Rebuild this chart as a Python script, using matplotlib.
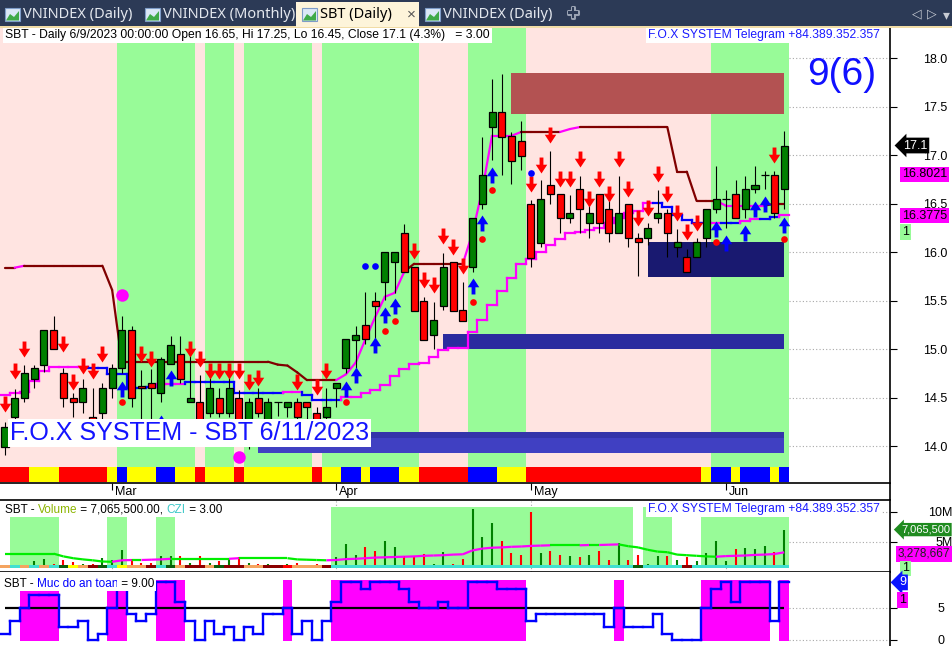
"""AmiBroker-style SBT daily chart with volume and safety panes."""

import numpy as np
import matplotlib

matplotlib.use("Agg")
import matplotlib.pyplot as plt
import matplotlib.transforms as mtransforms
import matplotlib.patheffects as pe
from matplotlib.collections import LineCollection
from matplotlib.patches import Polygon, Rectangle
from matplotlib.path import Path

plt.rcParams["font.family"] = ["Liberation Sans", "DejaVu Sans"]

# ---- price bars (bar 0 = 14 Feb 2023 ... bar 80 = 9 Jun 2023) ----
opens = [13.99, 14.30, 14.50, 14.69, 14.84, 15.20, 14.75, 14.50, 14.45, 14.30,
         14.34, 14.60, 14.80, 15.20, 14.62, 14.65, 14.55, 14.85, 14.95, 14.45,
         14.45, 14.34, 14.50, 14.34, 14.50, 14.25, 14.50, 14.27, 14.45, 14.40,
         14.45, 14.45, 14.34, 14.30, 14.60, 14.80, 15.09, 15.25, 15.50, 15.69,
         15.90, 16.20, 15.85, 15.50, 15.15, 15.44, 15.90, 15.40, 15.85, 16.50,
         17.29, 17.45, 17.20, 17.15, 16.50, 16.09, 16.69, 16.60, 16.35, 16.65,
         16.30, 16.60, 16.45, 16.20, 16.50, 16.15, 16.15, 16.35, 16.40, 16.05,
         15.95, 15.95, 16.15, 16.45, 16.55, 16.60, 16.45, 16.65, 16.80, 16.80,
         16.65]
highs = [14.25, 14.59, 14.84, 14.84, 15.20, 15.34, 14.80, 14.55, 14.69, 14.60,
         14.65, 14.85, 15.34, 15.24, 14.78, 14.79, 14.92, 15.14, 15.14, 14.95,
         14.73, 14.73, 14.60, 14.80, 14.58, 14.50, 14.60, 14.50, 14.45, 14.45,
         14.50, 14.45, 14.40, 14.60, 14.65, 15.10, 15.24, 15.59, 15.59, 16.00,
         16.00, 16.29, 15.85, 15.54, 15.49, 15.99, 15.90, 15.69, 16.35, 17.19,
         17.79, 17.84, 17.24, 17.35, 16.54, 16.74, 17.04, 16.60, 16.59, 16.79,
         16.62, 16.60, 16.62, 16.79, 16.50, 16.20, 16.30, 16.64, 16.44, 16.24,
         16.03, 16.15, 16.45, 16.89, 16.64, 16.74, 16.79, 16.89, 16.84, 16.84,
         17.25]
lows = [13.91, 14.20, 14.45, 14.60, 14.76, 15.00, 14.40, 14.30, 14.34, 14.20,
        14.28, 14.50, 14.75, 14.40, 14.25, 14.27, 14.45, 14.85, 14.65, 14.45,
        14.10, 14.30, 14.30, 14.30, 14.15, 13.97, 14.30, 14.25, 14.31, 14.30,
        14.28, 14.28, 14.20, 14.28, 14.40, 14.75, 14.80, 15.05, 15.10, 15.51,
        15.58, 15.80, 15.39, 15.09, 15.00, 15.40, 15.39, 15.29, 15.80, 16.45,
        16.95, 16.80, 16.70, 16.85, 15.85, 16.05, 16.50, 16.20, 16.30, 16.20,
        16.15, 16.20, 16.10, 16.20, 16.05, 15.75, 16.07, 16.30, 15.95, 15.95,
        15.80, 15.95, 16.05, 16.40, 16.25, 16.35, 16.35, 16.61, 16.65, 16.35,
        16.45]
closes = [14.20, 14.50, 14.75, 14.80, 15.20, 15.00, 14.50, 14.45, 14.60, 14.26,
          14.60, 14.80, 15.20, 14.50, 14.60, 14.60, 14.90, 15.04, 14.69, 14.50,
          14.20, 14.60, 14.34, 14.60, 14.20, 14.45, 14.34, 14.45, 14.45, 14.45,
          14.30, 14.40, 14.25, 14.40, 14.65, 15.10, 15.15, 15.10, 15.44, 16.00,
          16.00, 15.80, 15.39, 15.09, 15.30, 15.85, 15.39, 15.29, 16.35, 16.80,
          17.45, 17.19, 16.94, 16.99, 15.94, 16.55, 16.60, 16.35, 16.40, 16.44,
          16.40, 16.30, 16.20, 16.40, 16.15, 16.10, 16.25, 16.40, 16.20, 16.10,
          15.80, 16.10, 16.45, 16.55, 16.55, 16.35, 16.65, 16.69, 16.80, 16.40,
          17.10]
month_bars = [11, 34, 54, 74]
month_labels = ["Mar", "Apr", "May", "Jun"]

# trailing stop (upper) and support (lower staircase) lines
stop_line = [15.84, 15.84, 15.86, 15.86, 15.86, 15.86, 15.86, 15.86, 15.86, 15.86,
             15.86, 15.61, 14.87, 14.87, 14.87, 14.87, 14.87, 14.87, 14.87, 14.87,
             14.87, 14.87, 14.87, 14.87, 14.87, 14.87, 14.87, 14.87, 14.84, 14.83,
             14.76, 14.68, 14.68, 14.68, 14.68, 14.74, 14.86, 15.10, 15.33, 15.54,
             15.58, 15.80, 15.88, 15.88, 15.88, 15.88, 15.88, 15.88, 16.20, 16.64,
             17.20, 17.20, 17.20, 17.24, 17.24, 17.24, 17.24, 17.24, 17.27, 17.29,
             17.29, 17.29, 17.29, 17.29, 17.29, 17.29, 17.29, 17.29, 17.29, 16.83,
             16.83, 16.53, 16.53, 16.53, 16.48, 16.48, 16.48, 16.48, 16.48, 16.50,
             16.50]
stop_color_runs = [(0, 1, "M"), (2, 2, "P"), (3, 34, "M"), (35, 41, "P"), (42, 47, "M"),
                   (48, 53, "P"), (54, 57, "M"), (58, 59, "P"), (60, 73, "M"),
                   (74, 78, "P"), (79, 80, "M")]
support_line = [14.53, 14.55, 14.56, 14.67, 14.77, 14.82, 14.82, 14.82, 14.82, 14.80,
                14.80, 14.74, 14.74, 14.60, 14.60, 14.61, 14.64, 14.64, 14.64, 14.66,
                14.66, 14.66, 14.66, 14.66, 14.55, 14.55, 14.55, 14.55, 14.55, 14.56,
                14.56, 14.53, 14.48, 14.48, 14.48, 14.51, 14.51, 14.55, 14.58, 14.63,
                14.72, 14.79, 14.85, 14.86, 14.92, 14.99, 15.01, 15.01, 15.18, 15.30,
                15.46, 15.60, 15.73, 15.88, 15.93, 16.00, 16.07, 16.14, 16.20, 16.21,
                16.23, 16.25, 16.30, 16.35, 16.40, 16.42, 16.51, 16.51, 16.47, 16.38,
                16.33, 16.30, 16.30, 16.30, 16.30, 16.30, 16.32, 16.34, 16.34, 16.36,
                16.38]
support_color_runs = [(0, 8, "P"), (9, 15, "B"), (16, 18, "P"), (19, 28, "B"), (29, 30, "P"),
                      (31, 34, "B"), (35, 66, "P"), (67, 72, "B"), (73, 73, "P"),
                      (74, 75, "B"), (76, 77, "P"), (78, 79, "B"), (80, 80, "P")]

# signals: (bar, price)
sell_arrows = [(0, 14.35), (1, 14.69), (2, 14.92), (6, 14.97), (7, 14.58), (8, 14.74),
               (9, 14.69), (10, 14.87), (14, 14.87), (15, 14.82), (19, 14.92), (20, 14.82),
               (21, 14.69), (22, 14.69), (23, 14.69), (24, 14.69), (25, 14.58), (26, 14.62),
               (30, 14.58), (32, 14.53), (33, 14.69), (42, 15.93), (43, 15.63), (44, 15.58),
               (45, 16.08), (46, 15.97), (47, 15.77), (54, 16.62), (55, 16.82), (56, 17.13),
               (57, 16.67), (58, 16.67), (59, 16.88), (60, 16.47), (61, 16.67), (62, 16.52),
               (63, 16.88), (64, 16.57), (65, 16.27), (66, 16.37), (67, 16.72), (68, 16.52),
               (69, 16.32), (70, 16.13), (71, 16.22), (79, 16.92)]
buy_arrows = [(12, 14.67), (16, 14.32), (17, 14.78), (35, 14.67), (36, 14.82), (38, 15.13),
              (39, 15.43), (40, 15.53), (48, 15.73), (49, 16.38), (50, 16.88), (73, 16.32),
              (74, 16.18), (76, 16.28), (77, 16.53), (78, 16.58), (80, 16.36)]
red_dots = [(12, 14.45), (35, 14.45), (39, 15.19), (40, 15.29), (48, 15.49), (49, 16.14),
            (50, 16.64), (73, 16.10), (80, 16.14)]
blue_dots = [(37, 15.86), (38, 15.86), (54, 16.82)]
magenta_dots = [(12, 15.56), (24, 13.89)]

# zones: (first bar, last bar, low, high, colour)
zones = [(52, 80, 17.43, 17.85, "#b35252"),
         (66, 80, 15.74, 16.10, "#191970"),
         (45, 80, 15.00, 15.155, "#2b2b9f"),
         (26, 80, 13.93, 14.14, "#4040c2"),
         (26, 80, 14.08, 14.14, "#3434aa")]

green_runs = [(12, 19), (21, 23), (25, 31), (33, 42), (48, 53), (73, 80)]
ribbon_runs = [(0, 2, "R"), (3, 5, "Y"), (6, 10, "R"), (11, 11, "Y"), (12, 12, "B"),
               (13, 15, "Y"), (16, 17, "B"), (18, 19, "Y"), (20, 20, "R"), (21, 23, "Y"),
               (24, 24, "R"), (25, 31, "Y"), (32, 32, "R"), (33, 34, "Y"), (35, 36, "B"),
               (37, 37, "Y"), (38, 40, "B"), (41, 42, "Y"), (43, 47, "R"), (48, 50, "B"),
               (51, 53, "Y"), (54, 71, "R"), (72, 72, "Y"), (73, 74, "B"), (75, 75, "Y"),
               (76, 78, "B"), (79, 79, "Y"), (80, 80, "B")]

# ---- volume pane (millions of shares) ----
volume = [1.2, 1.2, 1.2, 1.8, 2.2, 1.4, 2.0, 1.6, 1.4, 1.4,
          2.3, 2.0, 3.7, 2.2, 1.5, 1.5, 2.7, 2.7, 2.7, 1.5,
          2.7, 1.5, 1.8, 2.2, 2.5, 1.5, 1.3, 1.4, 1.2, 1.3,
          1.5, 1.2, 1.3, 1.2, 2.5, 4.6, 2.9, 4.1, 3.5, 5.2,
          4.1, 2.7, 2.7, 3.0, 1.4, 3.4, 1.4, 2.2, 10.5, 5.8,
          8.2, 5.2, 3.1, 2.9, 10.0, 3.2, 3.5, 2.9, 2.6, 2.5,
          2.8, 3.5, 2.0, 4.8, 2.0, 2.9, 1.4, 2.7, 2.6, 2.0,
          2.5, 1.8, 3.1, 5.2, 1.8, 3.8, 4.0, 3.9, 4.3, 3.4,
          7.0655]
volume_ma = [3.05, 3.05, 3.05, 3.05, 3.05, 3.05, 2.6, 2.3, 2.1, 1.95,
             1.75, 1.7, 1.95, 2.0, 2.0, 2.05, 2.1, 2.2, 2.2, 2.2,
             2.2, 2.2, 2.2, 2.2, 2.3, 2.3, 2.3, 2.3, 2.3, 2.3,
             2.1, 2.05, 2.0, 1.95, 2.0, 2.15, 2.2, 2.3, 2.4, 2.45,
             2.5, 2.55, 2.6, 2.7, 2.75, 2.8, 2.9, 2.95, 3.6, 3.9,
             4.05, 4.1, 4.2, 4.25, 4.35, 4.4, 4.45, 4.45, 4.45, 4.45,
             4.5, 4.5, 4.55, 4.6, 4.3, 4.1, 3.7, 3.4, 3.3, 2.9,
             2.8, 2.7, 2.6, 2.55, 2.65, 2.7, 2.75, 2.85, 2.9, 3.0,
             3.278667]
volume_strip = ("OCOCOCGYOKGCYOOKCGOKKOGKKOOKKROOOK"
                "CCCCCCCCCCCCCCCCCCCCCCCCCCCCCCC" "G" "CCCC" "K" "CCCCCCCCCC")
vol_tall_runs = [(34, 64), (66, 68)]
vol_short_runs = [(1, 5), (11, 12), (16, 17), (72, 80)]

# ---- safety level pane ("Muc do an toan") ----
safety = [1, 3, 5, 7, 7, 7, 2, 2, 3, 0, 1, 5, 8, 4, 3, 4, 9, 9, 6, 3,
          0, 3, 1, 2, 0, 2, 1, 4, 4, 5, 1, 3, 0, 3, 6, 9, 9, 8, 9, 9,
          9, 8, 6, 5, 5, 6, 5, 5, 9, 9, 9, 8, 8, 8, 3, 4, 4, 4, 4, 4,
          4, 4, 2, 5, 2, 2, 2, 4, 1, 0, 0, 0, 5, 8, 9, 6, 9, 9, 9, 3,
          9]

W, H = 953, 646
RIGHT = 890
PINK, GREEN = "#ffe4e1", "#98fb98"
MAROON, MAGENTA, BLUE = "#800000", "#ff00ff", "#0000ff"
LINE_COLORS = {"M": MAROON, "P": MAGENTA, "B": BLUE}
RIBBON_COLORS = {"R": "#ff0000", "Y": "#ffff00", "B": "#0000ff"}
STRIP_COLORS = {"O": "#f4a460", "C": "#40e0d0", "G": "#0b5d0b", "Y": "#ffff00",
                "K": "#8b0000", "R": "#ff0000"}


def expand(runs, n, fill):
    out = [fill] * n
    for first, last, value in runs:
        for i in range(first, last + 1):
            out[i] = value
    return out


def arrow_marker(up):
    verts = [(0, 0), (0.36, 0.55), (0.12, 0.55), (0.12, 1.0), (-0.12, 1.0),
             (-0.12, 0.55), (-0.36, 0.55), (0, 0)]
    if up:
        verts = [(x, -y) for x, y in verts]
    codes = [Path.MOVETO] + [Path.LINETO] * 6 + [Path.CLOSEPOLY]
    return Path(verts, codes)


def staircase(axis, values, colors, lw=1.6, zorder=2.5):
    segs, cols = [], []
    for i, v in enumerate(values):
        segs.append([(i - 0.5, v), (i + 0.5, v)])
        cols.append(colors[i])
        if i + 1 < len(values):
            segs.append([(i + 0.5, v), (i + 0.5, values[i + 1])])
            cols.append(colors[i + 1])
    axis.add_collection(LineCollection(segs, colors=cols, linewidths=lw, zorder=zorder,
                                       capstyle="projecting"))


def colored_text(axis, x, y, parts, size):
    text = axis.text(x, y, parts[0][0], color=parts[0][1], transform=axis.transAxes,
                     fontsize=size, va="bottom", zorder=9,
                     bbox=dict(fc="white", ec="none", pad=1.0))
    for string, color in parts[1:]:
        text = axis.annotate(string, xy=(1, 0), xycoords=text, color=color, fontsize=size,
                             va="bottom", zorder=9,
                             bbox=dict(fc="white", ec="none", pad=1.0))


def tag(axis, y, label, fc, tc, arrow=False, x_px=903, size=9):
    style = "larrow,pad=0.15" if arrow else "square,pad=0.15"
    axis.text(x_px / RIGHT, y, label, transform=axis.get_yaxis_transform(), color=tc,
              fontsize=size, ha="left", va="center", zorder=12, clip_on=False,
              bbox=dict(boxstyle=style, fc=fc, ec=fc, lw=0))


def pane(top, bottom):
    axis = fig.add_axes([0, 1 - bottom / H, RIGHT / W, (bottom - top) / H])
    axis.set_xlim(-0.513, 90.86)
    for side in ("top", "left"):
        axis.spines[side].set_visible(False)
    axis.spines["right"].set_linewidth(1.2)
    axis.spines["bottom"].set_linewidth(1.2)
    axis.yaxis.tick_right()
    axis.tick_params(axis="y", direction="out", length=5, width=0.8, labelsize=9)
    axis.tick_params(axis="x", bottom=False, labelbottom=False)
    return axis


n = len(closes)
x = np.arange(n)
o, h, l, c = (np.asarray(a) for a in (opens, highs, lows, closes))

fig = plt.figure(figsize=(W / 100, H / 100), dpi=100)

# ---------------- main price pane ----------------
ax = pane(28, 483)
ax.set_ylim(13.619, 18.312)
price_ticks = np.arange(14.0, 18.01, 0.5)
ax.set_yticks(price_ticks)
ax.set_yticklabels([f"{t:.1f}" for t in price_ticks])
ax.tick_params(axis="y", pad=36)
for lab in ax.get_yticklabels():
    lab.set_horizontalalignment("right")
ax.hlines(price_ticks, n - 0.5, 90.86, colors="#a8a8a8", linestyles=(0, (1, 2)), lw=0.8, zorder=0)

ax.axvspan(-0.5, n - 0.5, ymin=0.035, ymax=1, fc=PINK, ec="none", zorder=0.5)
for first, last in green_runs:
    ax.axvspan(first - 0.5, last + 0.5, ymin=0.035, ymax=1, fc=GREEN, ec="none", zorder=0.6)
for i, code in enumerate(expand(ribbon_runs, n, "Y")):
    ax.axvspan(i - 0.5, i + 0.5, ymin=0.002, ymax=0.035, fc=RIBBON_COLORS[code], ec="none", zorder=0.7)

for first, last, low, high, color in zones:
    ax.add_patch(Rectangle((first, low), last - first, high - low, fc=color, ec="none", zorder=1.5))

# upper stop line
stop_cols = expand(stop_color_runs, n, "M")
segs = [[(i - 1, stop_line[i - 1]), (i, stop_line[i])] for i in range(1, n)]
ax.add_collection(LineCollection(segs, colors=[LINE_COLORS[k] for k in stop_cols[1:]],
                                 linewidths=1.6, zorder=2.5, capstyle="round"))
# lower support staircase
staircase(ax, support_line, [LINE_COLORS[k] for k in expand(support_color_runs, n, "P")])

# candles
ax.vlines(x, l, h, color="black", lw=0.8, zorder=3)
flat = np.isclose(o, c)
body = ~flat
ax.bar(x[body], np.abs(c - o)[body], bottom=np.minimum(o, c)[body], width=0.72,
       color=np.where(c > o, "#008000", "#ff0000")[body], edgecolor="black", lw=0.9, zorder=4)
ax.hlines(o[flat], x[flat] - 0.4, x[flat] + 0.4, color="black", lw=0.9, zorder=4)

# signals
sx, sy = zip(*sell_arrows)
ax.plot(sx, sy, ls="none", marker=arrow_marker(False), ms=23, color="#ff0000", mec="none", zorder=5)
bx, by = zip(*buy_arrows)
ax.plot(bx, by, ls="none", marker=arrow_marker(True), ms=23, color="#0000ff", mec="none", zorder=5)
rx, ry = zip(*red_dots)
ax.plot(rx, ry, ls="none", marker="o", ms=4.8, color="#ff0000", mec="none", zorder=5)
ux, uy = zip(*blue_dots)
ax.plot(ux, uy, ls="none", marker="o", ms=4.8, color="#0000ff", mec="none", zorder=5)
mx, my = zip(*magenta_dots)
ax.plot(mx, my, ls="none", marker="o", ms=9, color="#ff00ff", mec="none", zorder=5)

# month ticks and labels
ax.set_xticks(month_bars)
ax.tick_params(axis="x", bottom=True, direction="out", length=5, width=0.8, labelbottom=False)
xform = mtransforms.blended_transform_factory(ax.transData, ax.transAxes)
for bar, label in zip(month_bars, month_labels):
    ax.text(bar + 0.3, -0.006, label, transform=xform, fontsize=9, ha="left", va="top")

# texts
ax.text(5 / RIGHT, (483 - 35) / 455,
        "SBT - Daily 6/9/2023 00:00:00 Open 16.65, Hi 17.25, Lo 16.45, Close 17.1 (4.3%)   = 3.00",
        transform=ax.transAxes, fontsize=8.7, va="center", ha="left", zorder=9,
        bbox=dict(fc="white", ec="none", pad=1.5))
ax.text(880 / RIGHT, (483 - 35) / 455, "F.O.X SYSTEM Telegram +84.389.352.357",
        transform=ax.transAxes, fontsize=8.7, color="#1a1aff", va="center", ha="right", zorder=9,
        bbox=dict(fc="white", ec="none", pad=1.5))
ax.text(842 / RIGHT, (483 - 75) / 455, "9(6)", transform=ax.transAxes, fontsize=28,
        color="#1010ff", ha="center", va="center", zorder=9)
ax.text(10 / RIGHT, (483 - 433) / 455, "F.O.X SYSTEM - SBT 6/11/2023", transform=ax.transAxes,
        fontsize=18, color="#1414ff", ha="left", va="center", zorder=9,
        bbox=dict(fc="white", ec="none", pad=1.5))

tag(ax, closes[-1], "17.1", "black", "white", arrow=True)
tag(ax, 16.8021, "16.8021", MAGENTA, "black", x_px=902)
tag(ax, 16.3775, "16.3775", MAGENTA, "black", x_px=902)
tag(ax, 16.21, "1", GREEN, "black", x_px=902)

# ---------------- volume pane ----------------
axv = pane(500, 572)
axv.set_ylim(0, 12)
axv.spines["top"].set_visible(True)
axv.spines["top"].set_linewidth(1.2)
axv.set_yticks([5, 10])
axv.set_yticklabels(["5M", "10M"])
axv.tick_params(axis="y", pad=40)
for lab in axv.get_yticklabels():
    lab.set_horizontalalignment("right")
axv.hlines([5, 10], n - 0.5, 90.86, colors="#a8a8a8", linestyles=(0, (1, 2)), lw=0.8, zorder=0)
axv.vlines(month_bars, 0, 12, colors="#a8a8a8", linestyles=(0, (1, 2)), lw=0.8, zorder=0)
for first, last in vol_tall_runs:
    axv.add_patch(Rectangle((first - 0.5, 1.0), last - first + 1, 9.8, fc=GREEN, ec="none", zorder=0.5))
for first, last in vol_short_runs:
    axv.add_patch(Rectangle((first - 0.5, 1.0), last - first + 1, 8.2, fc=GREEN, ec="none", zorder=0.5))
axv.bar(x, 0.55, bottom=0.65, width=1.0, color=[STRIP_COLORS[k] for k in volume_strip], zorder=1)
vol = np.asarray(volume)
axv.vlines(x, 1.2, np.maximum(vol, 1.2), colors=np.where(c >= o, "#008000", "#ff0000"), lw=1.5, zorder=2)
ma = np.asarray(volume_ma)
ma_segs = [[(i - 1, ma[i - 1]), (i, ma[i])] for i in range(1, n)]
ma_cols = [MAGENTA if ma[i] > ma[i - 1] else "#00ee00" for i in range(1, n)]
axv.add_collection(LineCollection(ma_segs, colors=ma_cols, linewidths=1.6, zorder=3))

colored_text(axv, 5 / RIGHT, (572 - 516) / 72,
             [("SBT - ", "black"), ("Volume", "#8cb400"), (" = 7,065,500.00, ", "black"),
              ("CZI", "#3cc8c8"), (" = 3.00", "black")], 8.5)
axv.text(880 / RIGHT, (572 - 509) / 72, "F.O.X SYSTEM Telegram +84.389.352.357",
         transform=axv.transAxes, fontsize=8.7, color="#1a1aff", va="center", ha="right", zorder=9,
         bbox=dict(fc="white", ec="none", pad=1.5))
tag(axv, volume[-1], "7,065,500", "#1f8b1f", "white", arrow=True, x_px=901, size=8)
tag(axv, 3.0, "3,278,667", MAGENTA, "#202020", x_px=898, size=8.5)
tag(axv, 0.6, "1", GREEN, "black", x_px=902)

# ---------------- safety pane ----------------
axs = pane(572, 646)
axs.set_ylim(-0.94, 10.625)
axs.spines["bottom"].set_visible(False)
axs.set_yticks([0, 5])
axs.set_yticklabels(["0", "5"])
axs.tick_params(axis="y", pad=34)
for lab in axs.get_yticklabels():
    lab.set_horizontalalignment("right")
axs.hlines([0, 5], n - 0.5, 90.86, colors="#a8a8a8", linestyles=(0, (1, 2)), lw=0.8, zorder=0)
sv = np.asarray(safety)
safe = sv >= 5
axs.bar(x[safe], 9.55, bottom=-0.16, width=1.0, color=MAGENTA, lw=0, zorder=1)
axs.hlines(5, 0, n - 1, colors="black", lw=1.6, zorder=2)
staircase(axs, safety, [BLUE] * n, lw=1.7, zorder=3)
colored_text(axs, 4 / RIGHT, (646 - 590) / 74,
             [("SBT - ", "black"), ("Muc do an toan", "#0000ff"), (" = 9.00", "black")], 8.5)
tag(axs, safety[-1], "9", "#0a14ff", "white", arrow=True, x_px=899)
tag(axs, 6.3, "1", MAGENTA, "black", x_px=899)

# ---------------- chrome: tab bar and separators ----------------
ui = fig.add_axes([0, 0, 1, 1], zorder=-1)
ui.set_xlim(0, W)
ui.set_ylim(H, 0)
ui.axis("off")
ui.vlines(RIGHT + 0.5, 483, 500, colors="black", lw=1.2)

tab = fig.add_axes([0, 1 - 28 / H, 1, 28 / H])
tab.set_xlim(0, W)
tab.set_ylim(28, 0)
tab.axis("off")
tab.add_patch(Rectangle((0, 0), W, 28, fc="#2c3a56", ec="none"))
tab.add_patch(Rectangle((0, 25.5), W, 2.5, fc="#f1dca6", ec="none"))
tab.add_patch(Rectangle((296, 2), 123, 25, fc="#fdf4da", ec="none"))


def icon(x0):
    tab.add_patch(Rectangle((x0, 8), 15, 13, fc="#dbe8f6", ec="#7e9cc8", lw=0.8))
    tab.add_patch(Polygon([(x0 + 1, 20.5), (x0 + 5, 14), (x0 + 9, 17), (x0 + 14, 11), (x0 + 14, 20.5)],
                          closed=True, fc="#3faa48", ec="none"))


tab_font = dict(fontsize=10.5, va="center", family=["Noto Sans", "DejaVu Sans"])
for x0, label in [(5, "VNINDEX (Daily)"), (145, "VNINDEX (Monthly)"), (425, "VNINDEX (Daily)")]:
    icon(x0)
    tab.text(x0 + 18, 14.5, label, color="#e4e8ef", **tab_font)
icon(302)
tab.text(320, 14.5, "SBT (Daily)", color="black", fontweight="bold", **tab_font)
tab.text(411, 14.5, "×", color="#555555", ha="center", fontsize=11, va="center")
tab.text(573, 14, "+", color="#2c3a56", ha="center", va="center", fontsize=15, fontweight="bold",
         path_effects=[pe.withStroke(linewidth=2.2, foreground="#9aa3b3")])
tab.text(917, 13.5, "◁", color="#c8ccd4", ha="center", va="center", fontsize=9, family="DejaVu Sans")
tab.text(932, 13.5, "▷", color="#c8ccd4", ha="center", va="center", fontsize=9, family="DejaVu Sans")
tab.text(946, 15, "▾", color="#c8ccd4", ha="center", va="center", fontsize=10, family="DejaVu Sans")

fig.savefig("out.png", dpi=100)
